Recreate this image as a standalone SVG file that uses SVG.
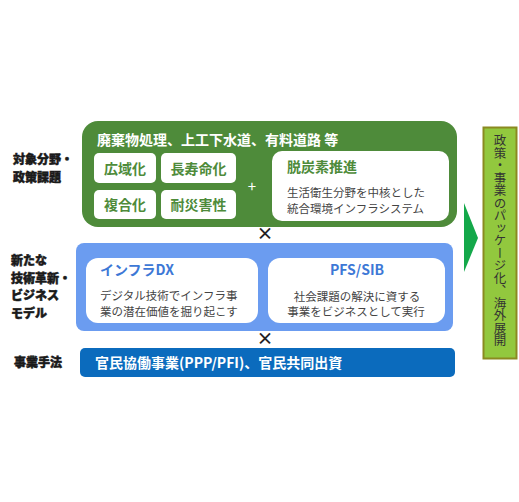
<svg xmlns="http://www.w3.org/2000/svg" width="519" height="502" viewBox="0 0 519 502">
<style>
text{font-family:"Noto Sans CJK JP","Noto Sans CJK SC",sans-serif}
.lbl{font-size:12px;font-weight:900;fill:#1a1a1a;stroke:#1a1a1a;stroke-width:0.5}
.wbox{fill:#ffffff}
.gt{font-size:14px;font-weight:bold;fill:#4e8b3a}
.bt{font-size:14px;font-weight:bold;fill:#3d78d6}
.gray{font-size:11.5px;fill:#444}
.ttl{font-size:14px;font-weight:bold;fill:#fff}
.op{font-size:17px;font-weight:bold;fill:#222}
</style>
<rect width="519" height="502" fill="#fff"/>
<g id="label-target">
<text class="lbl" x="13" y="164">対象分野・</text>
<text class="lbl" x="13" y="182">政策課題</text>
</g>
<g id="label-tech">
<text class="lbl" x="11" y="265">新たな</text>
<text class="lbl" x="11" y="282.5">技術革新・</text>
<text class="lbl" x="11" y="300">ビジネス</text>
<text class="lbl" x="11" y="317.5">モデル</text>
</g>
<g id="label-method">
<text class="lbl" x="14" y="367">事業手法</text>
</g>
<g id="green-group">
<rect x="82" y="121" width="375" height="106" rx="16" fill="#4e8b3a"/>
<text class="ttl" x="97" y="145">廃棄物処理、上工下水道、有料道路 等</text>
</g>
<g id="n-kouiki"><rect class="wbox" x="94" y="153" width="62" height="30" rx="5"/><text class="gt" x="125" y="174" text-anchor="middle">広域化</text></g>
<g id="n-chouju"><rect class="wbox" x="161" y="153" width="75" height="30" rx="5"/><text class="gt" x="198.5" y="174" text-anchor="middle">長寿命化</text></g>
<g id="n-fukugou"><rect class="wbox" x="94" y="190" width="62" height="29" rx="5"/><text class="gt" x="125" y="210" text-anchor="middle">複合化</text></g>
<g id="n-taisai"><rect class="wbox" x="161" y="190" width="75" height="29" rx="5"/><text class="gt" x="198.5" y="210" text-anchor="middle">耐災害性</text></g>
<text x="252" y="192" font-size="15" fill="#fff" text-anchor="middle" font-family="Liberation Sans,sans-serif">+</text>
<g id="n-datsutanso">
<rect class="wbox" x="272" y="151" width="177" height="70" rx="10"/>
<text class="gt" x="287" y="172" font-size="15">脱炭素推進</text>
<text class="gray" x="287" y="197">生活衛生分野を中核とした</text>
<text class="gray" x="287" y="213">統合環境インフラシステム</text>
</g>
<g id="blue-group">
<rect x="76" y="243" width="377" height="88" rx="8" fill="#6b9cf0"/>
</g>
<g id="n-infradx">
<rect class="wbox" x="86" y="258" width="172" height="65" rx="12"/>
<text class="bt" x="100" y="275">インフラDX</text>
<text class="gray" x="100" y="300">デジタル技術でインフラ事</text>
<text class="gray" x="100" y="316">業の潜在価値を掘り起こす</text>
</g>
<g id="n-pfs">
<rect class="wbox" x="268" y="258" width="177" height="65" rx="12"/>
<text class="bt" x="357" y="275" text-anchor="middle">PFS/SIB</text>
<text class="gray" x="357" y="301" text-anchor="middle">社会課題の解決に資する</text>
<text class="gray" x="356" y="316" text-anchor="middle">事業をビジネスとして実行</text>
</g>
<g id="n-ppp">
<rect x="80" y="348" width="375" height="29" rx="5" fill="#0b6bbd"/>
<text class="ttl" x="95" y="368" font-size="14.5">官民協働事業(PPP/PFI)、官民共同出資</text>
</g>
<g id="n-package">
<rect x="483.5" y="127.5" width="33" height="231" fill="#92c83e" stroke="#8a8a20" stroke-width="2"/>
<text x="500" y="134" font-size="12.5" fill="#333" style="writing-mode:vertical-rl;text-orientation:upright" text-anchor="start">政策・事業のパッケージ化、海外展開</text>
</g>
<g id="connectors">
<polygon points="464,203 478,238 464,272" fill="#14a84a"/>
<text class="op" x="265" y="240" text-anchor="middle" font-family="Liberation Sans,sans-serif">×</text>
<text class="op" x="265" y="345" text-anchor="middle" font-family="Liberation Sans,sans-serif">×</text>
</g>
</svg>
